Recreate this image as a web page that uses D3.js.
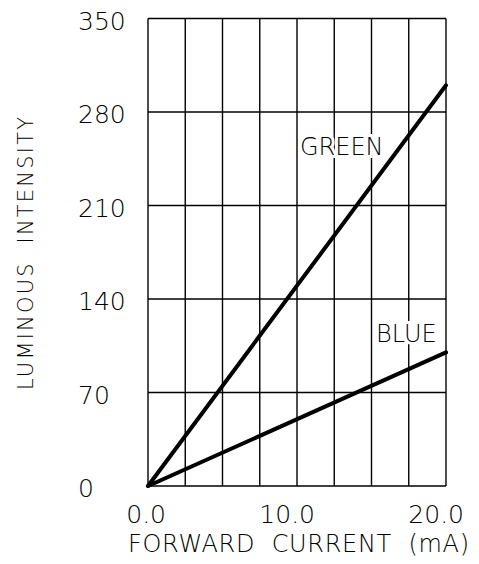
<!DOCTYPE html>
<html>
<head>
<meta charset="utf-8">
<script src="https://cdn.jsdelivr.net/npm/d3@7"></script>
<style>
  html, body { margin: 0; padding: 0; background: #fff; }
  svg text { font-family: "DejaVu Sans", sans-serif; fill: #000; white-space: pre; }
</style>
</head>
<body>
<div id="chart"></div>
<script>
// data
const currents = [0, 20];
const green = [0, 300];
const blue = [0, 100];
const seriesNames = ["GREEN", "BLUE"];
const yTicks = [0, 70, 140, 210, 280, 350];
const xTicks = [0, 10, 20];
const xGrid = [0, 2.5, 5, 7.5, 10, 12.5, 15, 17.5, 20];

const width = 479, height = 564;
const margin = {top: 18.5, right: 33, bottom: 78, left: 148};

const svg = d3.select("#chart").append("svg")
    .attr("width", width)
    .attr("height", height);

const x = d3.scaleLinear().domain([0, 20]).range([margin.left, width - margin.right]);
const y = d3.scaleLinear().domain([0, 350]).range([height - margin.bottom, margin.top]);

// grid
const grid = svg.append("g")
    .attr("stroke", "#000")
    .attr("stroke-width", 1.4);

grid.selectAll(".vline")
    .data(xGrid)
    .enter().append("line")
    .attr("x1", d => x(d)).attr("x2", d => x(d))
    .attr("y1", y(0)).attr("y2", y(350));

grid.selectAll(".hline")
    .data(yTicks)
    .enter().append("line")
    .attr("x1", x(0)).attr("x2", x(20))
    .attr("y1", d => y(d)).attr("y2", d => y(d));

// tick labels
svg.append("g").selectAll("text")
    .data(yTicks)
    .enter().append("text")
    .attr("x", 78)
    .attr("y", d => y(d) + 11)
    .style("font-size", "25px")
    .style("font-weight", 200)
    .text(d => d);

svg.append("g").selectAll("text")
    .data(xTicks)
    .enter().append("text")
    .attr("x", d => x(d) + 18)
    .attr("y", 523)
    .attr("text-anchor", "end")
    .style("font-size", "25px")
    .style("font-weight", 200)
    .text(d => d.toFixed(1));

// axis titles
svg.append("text")
    .attr("x", 128)
    .attr("y", 552)
    .attr("textLength", 341)
    .attr("lengthAdjust", "spacing")
    .style("font-size", "24px")
    .style("font-weight", 200)
    .text("FORWARD  CURRENT  (mA)");

svg.append("text")
    .attr("transform", "translate(33,390) rotate(-90)")
    .attr("textLength", 273)
    .attr("lengthAdjust", "spacing")
    .style("font-size", "21px")
    .style("font-weight", 200)
    .text("LUMINOUS  INTENSITY");

// curves
const line = d3.line()
    .x((d, i) => x(currents[i]))
    .y(d => y(d));

[green, blue].forEach(s => {
    svg.append("path")
        .datum(s)
        .attr("d", line)
        .attr("fill", "none")
        .attr("stroke", "#000")
        .attr("stroke-width", 4)
        .attr("stroke-linecap", "round");
});

// curve labels, white behind so grid lines break
const labels = [
    {name: seriesNames[0], x: 300, y: 155},
    {name: seriesNames[1], x: 376, y: 342}
];
labels.forEach(l => {
    svg.append("text")
        .attr("x", l.x)
        .attr("y", l.y)
        .style("font-size", "24px")
        .style("font-weight", 200)
        .style("stroke", "#fff")
        .style("stroke-width", 6)
        .style("fill", "#fff")
        .text(l.name);
    svg.append("text")
        .attr("x", l.x)
        .attr("y", l.y)
        .style("font-size", "24px")
        .style("font-weight", 200)
        .text(l.name);
});
</script>
</body>
</html>
